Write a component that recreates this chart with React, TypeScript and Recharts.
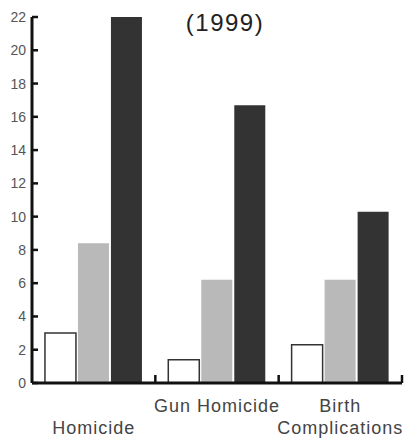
import React from 'react';
import { BarChart, Bar, XAxis, YAxis } from 'recharts';

// three categories, three series per category
const categories = ['Homicide', 'Gun Homicide', 'Birth Complications'];
const tickLines = [['', 'Homicide'], ['Gun Homicide'], ['Birth', 'Complications']];
const series1 = [3.0, 1.4, 2.3];
const series2 = [8.4, 6.2, 6.2];
const series3 = [22.0, 16.7, 10.3];
const yTicks = [0, 2, 4, 6, 8, 10, 12, 14, 16, 18, 20, 22];

const data = categories.map((name, i) => ({
  name,
  s1: series1[i],
  s2: series2[i],
  s3: series3[i],
}));

const W = 412;
const H = 440;
const LEFT = 32;
const RIGHT = 10;
const PLOT_W = W - LEFT - RIGHT;
const HALF_BAND = PLOT_W / categories.length / 2;
const FONT = '"Liberation Sans", Arial, sans-serif';

const YTick = (props: any) => {
  const { x, y, payload } = props;
  return (
    <g>
      <line x1={x} y1={y} x2={x + 6} y2={y} stroke="#111" strokeWidth={2.5} />
      <text x={x - 6} y={y + 5} textAnchor="end" fontSize={14} fill="#555" fontFamily={FONT}>
        {payload.value}
      </text>
    </g>
  );
};

const XTick = (props: any) => {
  const { x, y, index } = props;
  const lines = tickLines[index] || [];
  const bx = x + HALF_BAND;
  return (
    <g>
      <line x1={bx} y1={y} x2={bx} y2={y - 8} stroke="#111" strokeWidth={2.5} />
      {lines.map((t, i) => (
        <text
          key={i}
          x={x}
          y={y + 29 + i * 22}
          textAnchor="middle"
          fontSize={18}
          letterSpacing={1}
          fill="#444"
          fontFamily={FONT}
        >
          {t}
        </text>
      ))}
    </g>
  );
};

export default function App() {
  return (
    <div style={{ position: 'absolute', left: 0, top: 0, width: W, height: H, background: '#fff' }}>
      <BarChart
        width={W}
        height={H}
        data={data}
        margin={{ top: 17, right: RIGHT, left: 0, bottom: 0 }}
        barCategoryGap="10.5%"
        barGap={2}
      >
        <text x={225} y={31} textAnchor="middle" fontSize={24} letterSpacing={1.5} fill="#222" fontFamily={FONT}>
          (1999)
        </text>
        <XAxis
          dataKey="name"
          height={57}
          axisLine={{ stroke: '#111', strokeWidth: 3 }}
          tickLine={false}
          tickSize={0}
          tickMargin={0}
          interval={0}
          tick={<XTick />}
        />
        <YAxis
          width={LEFT}
          domain={[0, 22]}
          ticks={yTicks}
          interval={0}
          axisLine={{ stroke: '#111', strokeWidth: 3 }}
          tickLine={false}
          tickSize={0}
          tickMargin={0}
          tick={<YTick />}
        />
        <Bar dataKey="s1" fill="#ffffff" stroke="#333" strokeWidth={1.5} isAnimationActive={false} />
        <Bar dataKey="s2" fill="#b9b9b9" isAnimationActive={false} />
        <Bar dataKey="s3" fill="#333333" isAnimationActive={false} />
      </BarChart>
    </div>
  );
}
